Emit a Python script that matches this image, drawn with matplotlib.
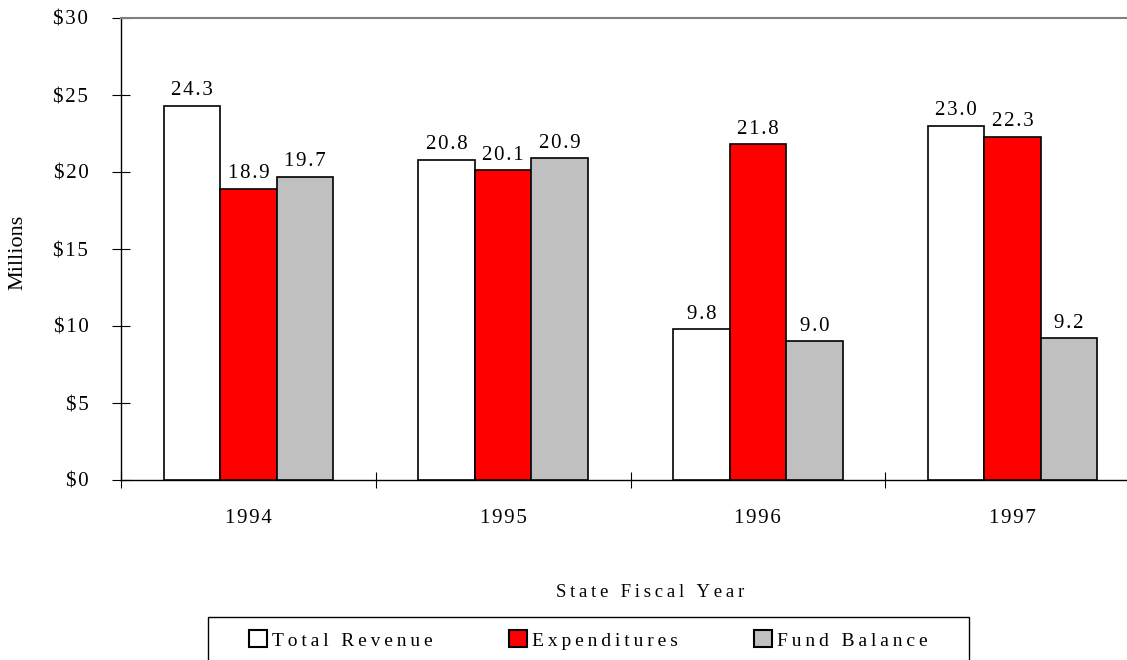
import matplotlib
matplotlib.use("Agg")
import matplotlib.pyplot as plt
import numpy as np
from matplotlib.patches import Patch, Rectangle

plt.rcParams['font.family'] = ['Liberation Serif', 'DejaVu Serif']

years = ["1994", "1995", "1996", "1997"]
total_revenue = [24.3, 20.8, 9.8, 23.0]
expenditures = [18.9, 20.1, 21.8, 22.3]
fund_balance = [19.7, 20.9, 9.0, 9.2]
series_names = ["Total Revenue", "Expenditures", "Fund Balance"]
colors = ["#FFFFFF", "#FF0000", "#C0C0C0"]
yticks = [0, 5, 10, 15, 20, 25, 30]
ytick_labels = ["$0", "$5", "$10", "$15", "$20", "$25", "$30"]

HAIR = "\u200a"
THIN = "\u2009"


def spaced(s, sp=HAIR):
    return sp.join(s)


FS = 15
W, H = 1127, 660
fig = plt.figure(figsize=(W / 100, H / 100), dpi=100)
ax = fig.add_axes([121 / W, 1 - 480 / H, (1140 - 121) / W, (480 - 18) / H])

x = np.arange(len(years))
bw = 0.222
series = [total_revenue, expenditures, fund_balance]
for i, (vals, col, name) in enumerate(zip(series, colors, series_names)):
    pos = x + (i - 1) * bw
    bars = ax.bar(pos, vals, width=bw, color=col, edgecolor="black",
                  linewidth=1.2, label=name, zorder=3)
    for b, v in zip(bars, vals):
        ax.annotate(spaced(f"{v:.1f}"), (b.get_x() + b.get_width() / 2, v),
                    xytext=(0, 4), textcoords="offset points",
                    ha="center", va="bottom", fontsize=FS)

ax.set_xlim(-0.5, len(years) - 0.5)
ax.set_ylim(0, 30)
ax.set_yticks(yticks)
ax.set_yticklabels([spaced(t) for t in ytick_labels], fontsize=FS)
ax.tick_params(axis="y", direction="inout", length=13, width=0.8, pad=17)

ax.set_xticks(np.arange(-0.5, len(years) + 0.5, 1))
ax.set_xticklabels([])
ax.set_xticks(x, minor=True)
ax.set_xticklabels([spaced(y) for y in years], minor=True, fontsize=FS)
ax.tick_params(axis="x", which="major", direction="inout", length=12, width=0.8)
ax.tick_params(axis="x", which="minor", length=0, pad=21)

ax.spines["right"].set_visible(False)
ax.spines["top"].set_color("#808080")
ax.spines["top"].set_linewidth(1.5)
ax.spines["left"].set_linewidth(1.0)
ax.spines["bottom"].set_linewidth(1.0)

fig.text(18 / W, 1 - 252 / H, "Millions", rotation=90, ha="center",
         va="center", fontsize=16)
fig.text(650 / W, 1 - 597 / H, spaced("State Fiscal Year", THIN), ha="center",
         va="baseline", fontsize=13.5)

# legend frame (box extends below the figure edge)
fig.patches.append(Rectangle((208 / W, -0.05), (969 - 208) / W, 1 - 617 / H + 0.05,
                             transform=fig.transFigure, facecolor="none",
                             edgecolor="black", linewidth=1.0, clip_on=False))

handles = [Patch(facecolor=c, edgecolor="black", linewidth=1.5) for c in colors]
leg = fig.legend(handles, [spaced(n, THIN) for n in series_names],
                 loc="center left", bbox_to_anchor=(249 / W, 1 - 640 / H),
                 ncol=3, frameon=False, fontsize=14,
                 handlelength=0.95, handleheight=0.95,
                 handletextpad=0.25, columnspacing=3.9, borderpad=0,
                 borderaxespad=0)

fig.savefig("out.png", dpi=100)
